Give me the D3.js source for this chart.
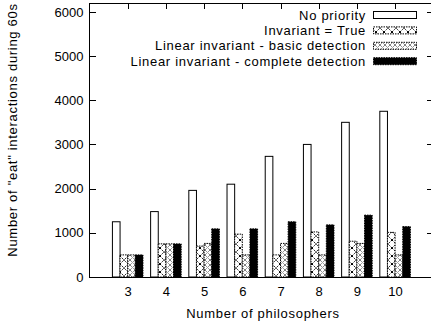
<!DOCTYPE html>
<html>
<head>
<meta charset="utf-8">
<script src="https://cdn.jsdelivr.net/npm/d3@7"></script>
<style>
  body { margin: 0; background: #fff; }
  svg { display: block; }
  text { font-family: "Liberation Sans", Arial, Helvetica, sans-serif; font-size: 13px; fill: #000; }
  .label { letter-spacing: 0.7px; }
  .axis path { display: none; }
  .axis line { stroke: #000; shape-rendering: crispEdges; }
</style>
</head>
<body>
<div id="chart"></div>
<script>
// data
const philosophers = [3, 4, 5, 6, 7, 8, 9, 10];
const noPriority = [1250, 1480, 1960, 2100, 2730, 3000, 3500, 3750];
const invariantTrue = [500, 750, 700, 970, 500, 1020, 810, 1010];
const basicDetection = [500, 750, 760, 500, 760, 500, 760, 500];
const completeDetection = [500, 750, 1090, 1090, 1250, 1180, 1400, 1140];
const seriesNames = ['No priority', 'Invariant = True', 'Linear invariant - basic detection', 'Linear invariant - complete detection'];
const yTicks = [0, 1000, 2000, 3000, 4000, 5000, 6000];

const width = 431, height = 327;
const marginLeft = 89.5, marginTop = 3, plotRight = 433.3, plotBottom = 277;

const svg = d3.select('#chart').append('svg')
    .attr('width', width)
    .attr('height', height);

// fill patterns, roughly like gnuplot's
const defs = svg.append('defs');
let p1 = defs.append('pattern').attr('id', 'pat1').attr('patternUnits', 'userSpaceOnUse')
    .attr('width', 8).attr('height', 8);
p1.append('rect').attr('width', 8).attr('height', 8).attr('fill', '#fff');
p1.append('path').attr('d', 'M0,0L8,8M8,0L0,8').attr('stroke', '#000').attr('stroke-width', 1).attr('stroke-dasharray', '1.5,1');
let p2 = defs.append('pattern').attr('id', 'pat2').attr('patternUnits', 'userSpaceOnUse')
    .attr('width', 5).attr('height', 5);
p2.append('rect').attr('width', 5).attr('height', 5).attr('fill', '#fff');
p2.append('path').attr('d', 'M0,0L5,5M5,0L0,5').attr('stroke', '#000').attr('stroke-width', 0.7).attr('stroke-dasharray', '1,1');

const fills = ['#fff', 'url(#pat1)', 'url(#pat2)', '#000'];
const dashes = [null, '1.5,1', '1.5,1', '1.5,1'];

const xScale = d3.scaleLinear().domain([-1, 8]).range([marginLeft, plotRight]);
const yScale = d3.scaleLinear().domain([0, 6200]).range([plotBottom, marginTop]);

// axes with inward ticks (gnuplot style)
svg.append('g')
    .attr('class', 'axis axis-y')
    .attr('transform', `translate(${marginLeft},0)`)
    .call(d3.axisLeft(yScale).tickValues(yTicks).tickSize(-6).tickPadding(6).tickFormat(d3.format('d')));
svg.append('g')
    .attr('class', 'axis axis-y2')
    .attr('transform', `translate(${plotRight},0)`)
    .call(d3.axisRight(yScale).tickValues(yTicks).tickSize(-6).tickFormat(''));
svg.append('g')
    .attr('class', 'axis axis-x')
    .attr('transform', `translate(0,${plotBottom})`)
    .call(d3.axisBottom(xScale).tickValues(d3.range(philosophers.length)).tickSize(-6).tickPadding(10)
        .tickFormat(i => philosophers[i]));
svg.append('g')
    .attr('class', 'axis axis-x2')
    .attr('transform', `translate(0,${marginTop})`)
    .call(d3.axisTop(xScale).tickValues(d3.range(philosophers.length)).tickSize(-6).tickFormat(''));
svg.selectAll('.axis text').style('font-size', '13px').style('font-family', '"Liberation Sans", Arial, sans-serif');

// bars
const allSeries = [noPriority, invariantTrue, basicDetection, completeDetection];
const boxW = 0.2;
allSeries.forEach((vals, s) => {
    svg.append('g').attr('class', 'series s' + s)
        .selectAll('rect').data(vals).enter().append('rect')
        .attr('x', (d, i) => xScale(i - 0.4 + s * boxW))
        .attr('y', d => yScale(d))
        .attr('width', xScale(boxW) - xScale(0))
        .attr('height', d => plotBottom - yScale(d))
        .attr('fill', fills[s])
        .attr('stroke', '#000')
        .attr('stroke-width', 1)
        .attr('stroke-dasharray', dashes[s]);
});

// frame
svg.append('rect')
    .attr('x', marginLeft).attr('y', marginTop)
    .attr('width', plotRight - marginLeft).attr('height', plotBottom - marginTop)
    .attr('fill', 'none').attr('stroke', '#000').attr('stroke-width', 1)
    .style('shape-rendering', 'crispEdges');

// legend
const legend = svg.append('g').attr('class', 'legend');
seriesNames.forEach((name, s) => {
    const cy = 15 + s * 15.4;
    legend.append('text')
        .attr('class', 'label')
        .attr('x', 366).attr('y', cy)
        .attr('dy', '0.35em')
        .attr('text-anchor', 'end')
        .text(name);
    legend.append('rect')
        .attr('x', 373.5).attr('y', cy - 3.5)
        .attr('width', 43).attr('height', 7)
        .attr('fill', fills[s])
        .attr('stroke', '#000')
        .attr('stroke-width', 1)
        .attr('stroke-dasharray', dashes[s]);
});

// axis titles
svg.append('text')
    .attr('class', 'label')
    .attr('x', 263)
    .attr('y', 318)
    .attr('text-anchor', 'middle')
    .text('Number of philosophers');
svg.append('text')
    .attr('class', 'label')
    .attr('transform', 'translate(17,130) rotate(-90)')
    .attr('text-anchor', 'middle')
    .text('Number of "eat" interactions during 60s');
</script>
</body>
</html>
